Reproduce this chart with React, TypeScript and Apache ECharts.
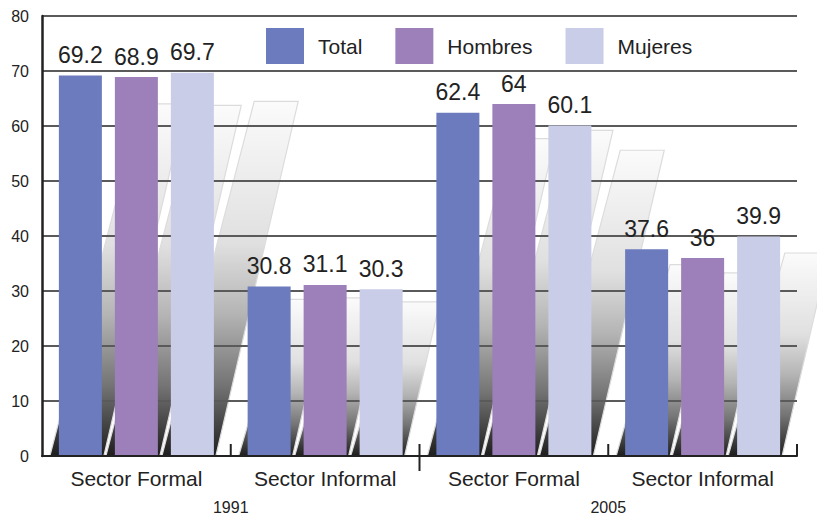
import React, { useEffect, useRef } from "react";
import * as echarts from "echarts";

const categories = ["Sector Formal", "Sector Informal", "Sector Formal", "Sector Informal"];
const years = ["1991", "2005"];
const seriesNames = ["Total", "Hombres", "Mujeres"];
const total = [69.2, 30.8, 62.4, 37.6];
const hombres = [68.9, 31.1, 64, 36];
const mujeres = [69.7, 30.3, 60.1, 39.9];
const yMin = 0;
const yMax = 80;
const yInterval = 10;

const COLORS = ["#6b7bbd", "#9d80b9", "#c9cde8"];
const FONT = "'Liberation Sans', Arial, sans-serif";
const BAR_W = 43;
const BAR_GAP = 13;
const SHADOW_RATIO = 0.925;
const SKEW = 0.235;

function shadowSeries(values: number[], k: number) {
  const offset = k - 1;
  return {
    type: "custom",
    name: "shadow" + k,
    z: 1,
    silent: true,
    encode: { x: 0, y: 1 },
    data: values.map((v, i) => [i, v]),
    renderItem: (params: any, api: any) => {
      const idx = api.value(0);
      const v = api.value(1);
      const base = api.coord([idx, 0]);
      const top = api.coord([idx, v * SHADOW_RATIO]);
      const cx = base[0] + offset * (BAR_W + BAR_GAP);
      const L = cx - BAR_W / 2;
      const R = cx + BAR_W / 2;
      const hs = base[1] - top[1];
      const shift = SKEW * hs;
      return {
        type: "polygon",
        shape: {
          points: [
            [L - 9, base[1]],
            [R + 2, base[1]],
            [R + shift + 1, top[1]],
            [L + shift, top[1]],
          ],
        },
        style: {
          fill: new echarts.graphic.LinearGradient(0, 0, 0, 1, [
            { offset: 0, color: "#fbfbfb" },
            { offset: 0.4, color: "#e0e0e0" },
            { offset: 0.6, color: "#b4b4b4" },
            { offset: 0.8, color: "#747474" },
            { offset: 1, color: "#1e1e1e" },
          ]),
          stroke: "#dcdcdc",
          lineWidth: 1.2,
        },
      };
    },
  };
}

function barSeries(name: string, values: number[], color: string) {
  return {
    type: "bar",
    name,
    z: 3,
    data: values,
    barWidth: BAR_W,
    barGap: (BAR_GAP / BAR_W) * 100 + "%",
    itemStyle: { color },
    label: {
      show: true,
      position: "top",
      distance: 9,
      fontSize: 23,
      fontFamily: FONT,
      color: "#222",
    },
  };
}

export default function App() {
  const ref = useRef<HTMLDivElement>(null);
  useEffect(() => {
    if (!ref.current) return;
    const chart = echarts.init(ref.current, undefined, { renderer: "svg" });
    const option: any = {
      animation: false,
      backgroundColor: "#ffffff",
      grid: { left: 42, right: 20, top: 16, bottom: 60, containLabel: false },
      legend: {
        data: seriesNames,
        left: 266,
        top: 28,
        padding: 0,
        icon: "rect",
        itemWidth: 38,
        itemHeight: 36,
        itemGap: 33,
        textStyle: { fontSize: 21, fontFamily: FONT, color: "#222", padding: [0, 0, 0, 9] },
      },
      xAxis: [
        {
          type: "category",
          data: categories,
          z: 4,
          axisLine: { lineStyle: { color: "#222", width: 2 } },
          axisTick: { show: false },
          axisLabel: { interval: 0, fontSize: 21, fontFamily: FONT, color: "#222", margin: 12 },
          splitLine: { show: false },
        },
        {
          type: "category",
          data: years,
          position: "bottom",
          offset: 0,
          axisLine: { show: false },
          axisTick: { show: false },
          axisLabel: { interval: 0, fontSize: 16, fontFamily: FONT, color: "#222", margin: 43 },
          splitLine: { show: false },
        },
      ],
      yAxis: {
        type: "value",
        min: yMin,
        max: yMax,
        interval: yInterval,
        z: 2,
        axisLine: { show: true, lineStyle: { color: "#222", width: 2.5 } },
        axisTick: { show: false },
        axisLabel: { fontSize: 16, fontFamily: FONT, color: "#222", margin: 13, padding: [7, 0, 0, 0] },
        splitLine: { show: true, lineStyle: { color: "#5a5a5a", width: 2 } },
      },
      series: [
        shadowSeries(total, 0),
        shadowSeries(hombres, 1),
        shadowSeries(mujeres, 2),
        barSeries(seriesNames[0], total, COLORS[0]),
        barSeries(seriesNames[1], hombres, COLORS[1]),
        barSeries(seriesNames[2], mujeres, COLORS[2]),
      ],
    };
    chart.setOption(option);
    const centers = categories.map((_, i) => chart.convertToPixel({ xAxisIndex: 0 }, i) as number);
    const step = centers[1] - centers[0];
    const y0 = chart.convertToPixel({ yAxisIndex: 0 }, 0) as number;
    const ticks: any[] = [];
    for (let i = 1; i <= categories.length; i++) {
      const x = i < categories.length ? (centers[i - 1] + centers[i]) / 2 : centers[i - 1] + step / 2;
      const crossing = i === categories.length / 2;
      ticks.push({
        type: "line",
        z: 100,
        shape: { x1: x, y1: y0 - 12, x2: x, y2: crossing ? y0 + 15 : y0 },
        style: { stroke: "#222", lineWidth: 2 },
      });
    }
    chart.setOption({ graphic: { elements: ticks } });
    return () => chart.dispose();
  }, []);
  return <div ref={ref} style={{ width: 817, height: 516, position: "fixed", left: 0, top: 0 }} />;
}
